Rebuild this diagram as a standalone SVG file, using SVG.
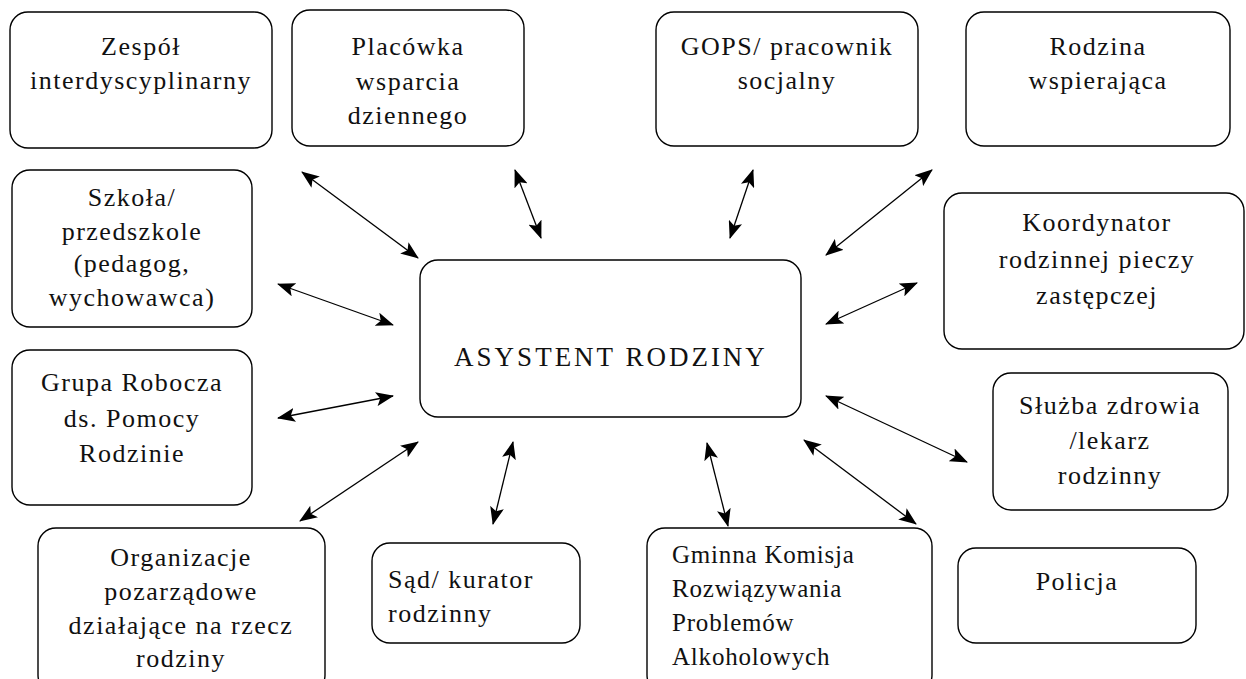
<svg xmlns="http://www.w3.org/2000/svg" width="1246" height="679" viewBox="0 0 1246 679">
<style>
.box{fill:#fff;stroke:#000;stroke-width:1.4}
.t{font-family:"Liberation Serif","Times New Roman",serif;font-size:26px;fill:#111;letter-spacing:1.5px;text-anchor:middle}
.l{text-anchor:start}
.c{font-size:27px;letter-spacing:3px}
.g{font-size:25px;letter-spacing:0.8px}
.conn line{stroke:#000;stroke-width:1.3;marker-start:url(#ah);marker-end:url(#ah)}
</style>
<defs>
<marker id="ah" markerUnits="userSpaceOnUse" markerWidth="18" markerHeight="14" refX="17" refY="7" orient="auto-start-reverse" viewBox="0 0 18 14">
<path d="M0,0 L18,7 L0,14 L4,7 z" fill="#000"/>
</marker>
</defs>
<rect width="1246" height="679" fill="#fff"/>
<g id="zespol"><rect class="box" x="10" y="12" width="262" height="136" rx="18"/><text class="t" x="141" y="55">Zespół</text><text class="t" x="141" y="89">interdyscyplinarny</text></g>
<g id="placowka"><rect class="box" x="292" y="10" width="232" height="136" rx="18"/><text class="t" x="408" y="55">Placówka</text><text class="t" x="408" y="90">wsparcia</text><text class="t" x="408" y="124">dziennego</text></g>
<g id="gops"><rect class="box" x="656" y="12" width="262" height="134" rx="18"/><text class="t" x="787" y="55">GOPS/ pracownik</text><text class="t" x="787" y="89">socjalny</text></g>
<g id="rodzina"><rect class="box" x="966" y="12" width="264" height="134" rx="18"/><text class="t" x="1098" y="55">Rodzina</text><text class="t" x="1098" y="89">wspierająca</text></g>
<g id="szkola"><rect class="box" x="12" y="170" width="240" height="157" rx="18"/><text class="t" x="132" y="206">Szkoła/</text><text class="t" x="132" y="240">przedszkole</text><text class="t" x="132" y="272">(pedagog,</text><text class="t" x="132" y="306">wychowawca)</text></g>
<g id="grupa"><rect class="box" x="12" y="350" width="240" height="155" rx="18"/><text class="t" x="132" y="391">Grupa Robocza</text><text class="t" x="132" y="427">ds. Pomocy</text><text class="t" x="132" y="462">Rodzinie</text></g>
<g id="koordynator"><rect class="box" x="944" y="193" width="300" height="156" rx="18"/><text class="t" x="1097" y="231">Koordynator</text><text class="t" x="1097" y="268">rodzinnej pieczy</text><text class="t" x="1097" y="304">zastępczej</text></g>
<g id="sluzba"><rect class="box" x="993" y="373" width="235" height="137" rx="18"/><text class="t" x="1110" y="414">Służba zdrowia</text><text class="t" x="1110" y="449">/lekarz</text><text class="t" x="1110" y="484">rodzinny</text></g>
<g id="asystent"><rect class="box" x="420" y="260" width="381" height="157" rx="18"/><text class="t c" x="611" y="366">ASYSTENT RODZINY</text></g>
<g id="organizacje"><rect class="box" x="38" y="528" width="287" height="165" rx="18"/><text class="t" x="181" y="566">Organizacje</text><text class="t" x="181" y="600">pozarządowe</text><text class="t" x="181" y="634">działające na rzecz</text><text class="t" x="181" y="667">rodziny</text></g>
<g id="sad"><rect class="box" x="372" y="543" width="208" height="100" rx="18"/><text class="t l" x="388" y="588">Sąd/ kurator</text><text class="t l" x="388" y="622">rodzinny</text></g>
<g id="gminna"><rect class="box" x="647" y="528" width="285" height="165" rx="18"/><text class="t l g" x="672" y="563">Gminna Komisja</text><text class="t l g" x="672" y="597">Rozwiązywania</text><text class="t l g" x="672" y="631">Problemów</text><text class="t l g" x="672" y="665">Alkoholowych</text></g>
<g id="policja"><rect class="box" x="958" y="548" width="238" height="95" rx="18"/><text class="t" x="1077" y="590">Policja</text></g>
<g id="connectors" class="conn">
<line x1="302" y1="172" x2="418" y2="258"/>
<line x1="515" y1="170" x2="541" y2="238"/>
<line x1="753" y1="170" x2="730" y2="238"/>
<line x1="932" y1="170" x2="826" y2="255"/>
<line x1="278" y1="284" x2="393" y2="325"/>
<line x1="278" y1="418" x2="393" y2="396"/>
<line x1="917" y1="283" x2="826" y2="324"/>
<line x1="826" y1="396" x2="967" y2="462"/>
<line x1="804" y1="440" x2="916" y2="524"/>
<line x1="418" y1="442" x2="300" y2="521"/>
<line x1="513" y1="442" x2="493" y2="524"/>
<line x1="707" y1="443" x2="728" y2="526"/>
</g>
</svg>
